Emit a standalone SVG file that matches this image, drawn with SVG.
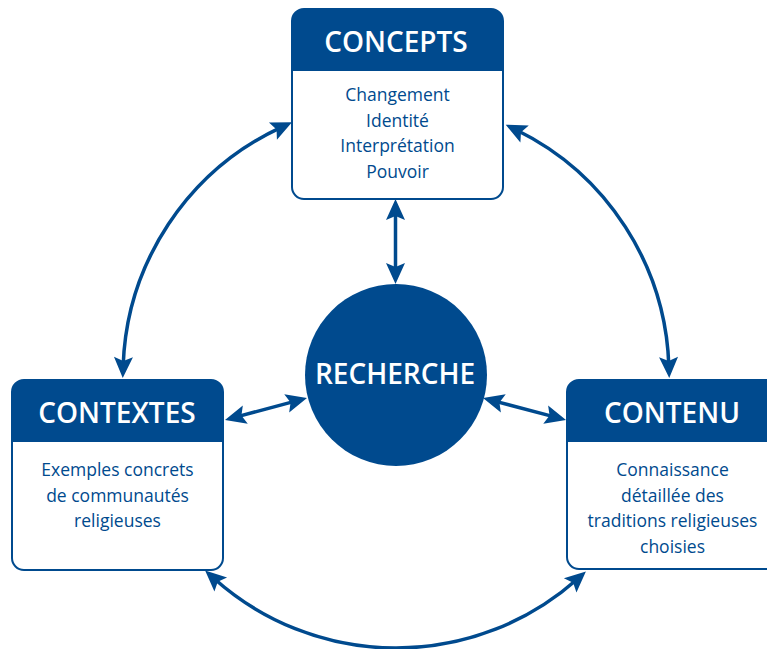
<svg xmlns="http://www.w3.org/2000/svg" width="767" height="649" viewBox="0 0 767 649">
<style>
.frame{fill:#fff;stroke:#004a8e;stroke-width:2}
.head{fill:#004a8e}
.title{font-family:"Open Sans","Noto Sans",sans-serif;font-weight:600;font-size:28px;fill:#fff;text-anchor:middle}
.body{font-family:"Open Sans","Noto Sans",sans-serif;font-size:17.5px;fill:#004a8e;text-anchor:middle}
.conn{fill:none;stroke:#004a8e;stroke-width:3.5;marker-start:url(#ah);marker-end:url(#ah)}
</style>
<defs>
<marker id="ah" markerUnits="userSpaceOnUse" viewBox="-12 -12 26 24" refX="0" refY="0" markerWidth="26" markerHeight="24" orient="auto-start-reverse">
<path d="M12,0 L-9,-9.5 L-5,0 L-9,9.5 Z" fill="#004a8e"/>
</marker>
</defs>
<rect width="767" height="649" fill="#fff"/>
<g id="connectors">
<path class="conn" d="M123.15,365.95 A273,273 0 0 1 281.1,127.4"/>
<path class="conn" d="M516.5,130 A273,273 0 0 1 668.85,365.95"/>
<path class="conn" d="M214.05,578.5 A273,273 0 0 0 576.9,579.5"/>
<path class="conn" d="M395.5,211 L395.5,272"/>
<path class="conn" d="M236.6,416.9 L295.4,401.1"/>
<path class="conn" d="M494.6,401.1 L554.4,416.9"/>
</g>
<g id="concepts">
<rect class="frame" x="292" y="9" width="211" height="190" rx="12"/>
<path class="head" d="M292,71 V21 A12,12 0 0 1 304,9 H491 A12,12 0 0 1 503,21 V71 Z"/>
<text class="title" x="396" y="52">CONCEPTS</text>
<text class="body" x="397.5" y="101">Changement</text>
<text class="body" x="397.5" y="126.5">Identité</text>
<text class="body" x="397.5" y="152">Interprétation</text>
<text class="body" x="397.5" y="177.5">Pouvoir</text>
</g>
<g id="contextes">
<rect class="frame" x="12" y="380" width="211" height="190" rx="12"/>
<path class="head" d="M12,442 V392 A12,12 0 0 1 24,380 H211 A12,12 0 0 1 223,392 V442 Z"/>
<text class="title" x="117" y="423">CONTEXTES</text>
<text class="body" x="117.5" y="476">Exemples concrets</text>
<text class="body" x="117.5" y="501.5">de communautés</text>
<text class="body" x="117.5" y="527">religieuses</text>
</g>
<g id="contenu">
<rect class="frame" x="567" y="380" width="211" height="189" rx="12"/>
<path class="head" d="M567,442 V392 A12,12 0 0 1 579,380 H766 A12,12 0 0 1 778,392 V442 Z"/>
<text class="title" x="672" y="423">CONTENU</text>
<text class="body" x="672.5" y="476">Connaissance</text>
<text class="body" x="672.5" y="501.5">détaillée des</text>
<text class="body" x="672.5" y="527">traditions religieuses</text>
<text class="body" x="672.5" y="552.5">choisies</text>
</g>
<g id="recherche">
<circle cx="396" cy="375" r="91" fill="#004a8e"/>
<text class="title" x="395" y="384">RECHERCHE</text>
</g>
</svg>
